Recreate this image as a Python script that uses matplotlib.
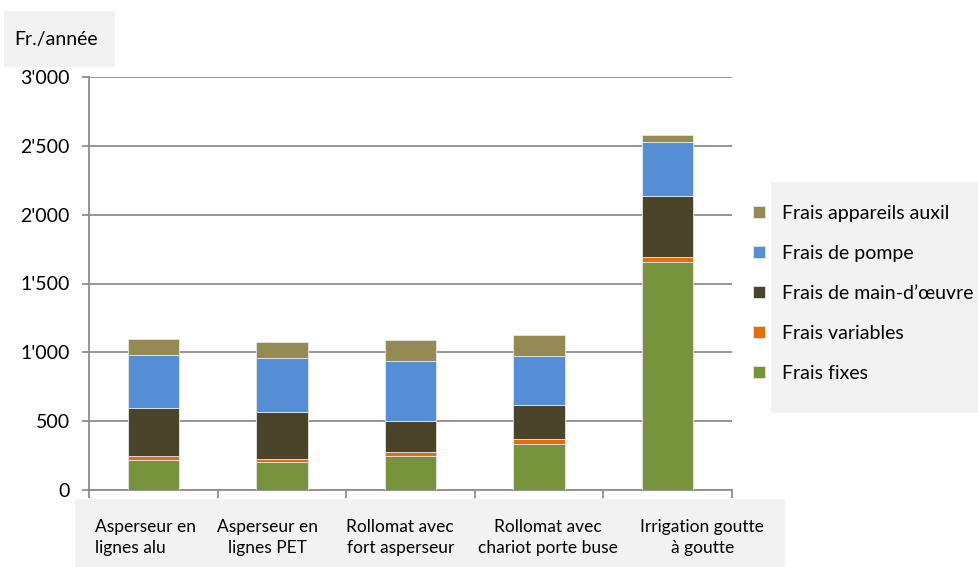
import matplotlib
matplotlib.use('Agg')
import matplotlib.pyplot as plt
from matplotlib.patches import Rectangle
from matplotlib.ticker import FuncFormatter, FixedLocator
import numpy as np

plt.rcParams['font.family'] = ['Lato', 'DejaVu Sans']

categories = ['Asperseur en\nlignes alu', 'Asperseur en\nlignes PET', 'Rollomat avec\nfort asperseur',
              'Rollomat avec\nchariot porte buse', 'Irrigation goutte\nà goutte']
series = ['Frais fixes', 'Frais variables', 'Frais de main-d\u2019\u0153uvre', 'Frais de pompe',
          'Frais appareils auxil']
fixes = [220, 200, 245, 333, 1658]
variables = [24, 22, 32, 34, 33]
main_oeuvre = [349, 344, 223, 253, 444]
pompe = [390, 390, 436, 354, 396]
auxil = [117, 120, 153, 154, 49]
values = [fixes, variables, main_oeuvre, pompe, auxil]
colors = ['#77933C', '#E46C0A', '#4A452A', '#558ED5', '#948A54']

# where Excel put the wrapped labels (data units)
label_pos = [-0.06, 0.89, 1.92, 3.07, 4.27]

W, H = 979, 567
fig = plt.figure(figsize=(W / 100, H / 100), dpi=100)
ax = fig.add_axes([89 / W, 1 - 490 / H, (732 - 89) / W, (490 - 77) / H])

gray = '#8e8e8e'
fs = 14

# grey boxes behind texts
for (x0, y0, x1, y1) in [(75, 499, 785, 567), (4, 11, 115, 67), (771, 182, 979, 413)]:
    fig.patches.append(Rectangle((x0 / W, 1 - y1 / H), (x1 - x0) / W, (y1 - y0) / H,
                                 transform=fig.transFigure, facecolor='#f2f2f2',
                                 edgecolor='none', zorder=-5))

x = np.arange(len(categories))
bottom = np.zeros(len(categories))
handles = []
for name, vals, c in zip(series, values, colors):
    b = ax.bar(x, vals, 0.4, bottom=bottom, color=c, edgecolor='#e6e6e6', linewidth=0.6,
               label=name, zorder=3)
    handles.append(b)
    bottom += np.array(vals)

ax.set_xlim(-0.5, 4.5)
ax.set_ylim(0, 3000)
ax.set_yticks(np.arange(0, 3001, 500))
ax.yaxis.set_major_formatter(FuncFormatter(lambda v, p: '{:,}'.format(int(v)).replace(',', "'")))
ax.yaxis.grid(True, color=gray, linewidth=1.3)
ax.set_axisbelow(True)
ax.tick_params(axis='y', length=5, width=1.3, color=gray, pad=9, labelsize=fs)

ax.xaxis.set_major_locator(FixedLocator(label_pos))
ax.set_xticklabels(categories, fontsize=12.5, linespacing=1.4)
ax.xaxis.set_minor_locator(FixedLocator(np.arange(-0.5, 4.6, 1)))
ax.tick_params(axis='x', which='major', length=0, pad=21)
ax.tick_params(axis='x', which='minor', length=6, width=1.3, color=gray, direction='out')
ax.get_xticklabels()[0].set_multialignment('left')

for s in ['top', 'right']:
    ax.spines[s].set_visible(False)
for s in ['left', 'bottom']:
    ax.spines[s].set_color(gray)
    ax.spines[s].set_linewidth(1.3)
ax.patch.set_alpha(0)

fig.text(14 / W, 1 - 39 / H, 'Fr./année', fontsize=fs, va='center', ha='left')

leg = fig.legend(handles[::-1], series[::-1], loc='upper left',
                 bbox_to_anchor=(753 / W, 1 - 205 / H), frameon=False, fontsize=fs,
                 handlelength=0.62, handleheight=0.62, handletextpad=0.87, labelspacing=1.18,
                 borderpad=0, borderaxespad=0)

fig.savefig('out.png', dpi=100)
